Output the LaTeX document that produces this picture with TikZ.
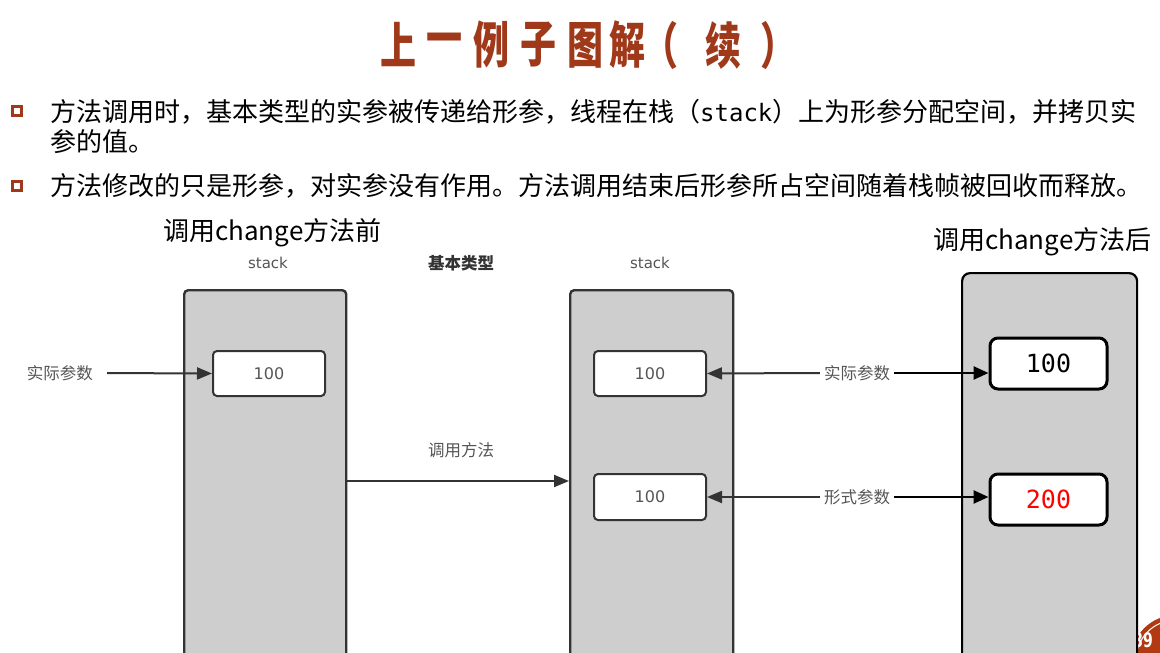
\documentclass[tikz,border=0pt]{standalone}
\usepackage{fontspec}
\usetikzlibrary{arrows.meta,calc}
\newfontfamily\cjk{Noto Sans CJK SC}
\newfontfamily\djs{DejaVu Sans}
\newfontfamily\djm{DejaVu Sans Mono}
\definecolor{rust}{HTML}{A0381A}
\definecolor{badge}{HTML}{B23A12}
\definecolor{frame}{HTML}{333333}
\definecolor{labelgray}{HTML}{555555}
\definecolor{stackfill}{HTML}{CECECE}

\tikzset{
  titlechar/.style={inner sep=0pt, text=rust, font=\cjk\bfseries\fontsize{50}{56}\selectfont},
  bullettext/.style={anchor=base west, inner sep=0pt, font=\cjk\fontsize{26}{30}\selectfont},
  heading/.style={anchor=base west, inner sep=0pt, font=\cjk\fontsize{26}{30}\selectfont},
  bulletbox/.style={draw=rust, line width=2.6pt, minimum size=9pt, inner sep=0pt},
  stackbox/.style={draw=frame, fill=stackfill, line width=2.4pt, rounded corners=4pt,
    anchor=north west, inner sep=0pt},
  valbox/.style={draw=frame, fill=white, line width=2pt, rounded corners=4pt,
    inner sep=0pt, text=labelgray, font=\djs\fontsize{16}{19}\selectfont},
  newstack/.style={draw=black, fill=stackfill, line width=2.2pt, rounded corners=8pt,
    anchor=north west, inner sep=0pt},
  newval/.style={draw=black, fill=white, line width=3pt, rounded corners=8pt,
    inner sep=0pt, font=\djm\fontsize{25}{30}\selectfont},
  lbl/.style={inner sep=4pt, text=labelgray, font=\cjk\fontsize{16.5}{19}\selectfont},
  stacklbl/.style={inner sep=0pt, text=labelgray, font=\djs\fontsize{15}{18}\selectfont},
  garrow/.style={draw=frame, line width=2pt, -{Triangle[length=15pt,width=12pt]}},
  barrow/.style={draw=black, line width=2.6pt, -{Triangle[length=15pt,width=13pt]}},
}

\begin{document}
\begin{tikzpicture}[x=1pt,y=-1pt]
\useasboundingbox (0,0) rectangle (1160,653);
\clip (0,0) rectangle (1160,653);
\fill[white] (0,0) rectangle (1160,653);

% title, one character at a time, narrow letterforms
\foreach \cx/\ch [count=\i] in {398/上,444/一,491/例,538/子,585/图,627/解,660/（,723/续,778/）}
  \node[titlechar] (t\i) at (\cx,45) {\scalebox{0.72}[1]{\ch}};

% bullets
\node[bulletbox] (sq1) at (17,111) {};
\node[bulletbox] (sq2) at (17,186) {};
\node[bullettext] (b1) at (50,121) {方法调用时，基本类型的实参被传递给形参，线程在栈（{\djm\fontsize{24}{28}\selectfont stack}）上为形参分配空间，并拷贝实};
\node[bullettext] (b2) at (50,151) {参的值。};
\node[bullettext] (b3) at (50,195) {方法修改的只是形参，对实参没有作用。方法调用结束后形参所占空间随着栈帧被回收而释放。};

% headings
\node[heading] (before) at (163,240) {调用change方法前};
\node[heading] (after) at (933,249) {调用change方法后};

% page badge
\fill[badge] (1176,660) circle (45);
\draw[white, line width=1pt] (1176,660) circle (40);
\node[inner sep=0pt, text=white, font=\djs\bfseries\fontsize{20}{24}\selectfont] (page) at (1143,640) {\scalebox{0.7}[1]{39}};

% column labels
\node[stacklbl] (s1) at (268,263) {stack};
\node[inner sep=0pt, text=frame, font=\cjk\bfseries\fontsize{16.5}{19}\selectfont] (kind) at (461,263) {基本类型};
\node[stacklbl] (s2) at (650,263) {stack};

% stack before the call
\node[stackbox, minimum width=162pt, minimum height=420pt] (lstack) at (183,289) {};
\node[valbox, minimum width=112pt, minimum height=45pt] (lval) at (269,373.5) {100};
\node[lbl] (lact) at (60,373) {实际参数};
\draw[garrow, shorten <=10pt] (lact.east) -- (lval.west);

% stack during the call
\node[stackbox, minimum width=163pt, minimum height=420pt] (mstack) at (569,289) {};
\node[valbox, minimum width=112pt, minimum height=45pt] (mval1) at (650,373.5) {100};
\node[valbox, minimum width=112pt, minimum height=46pt] (mval2) at (650,497) {100};

% the call itself
\node[lbl] (call) at (461,450) {调用方法};
\coordinate (callrow) at (461,481);
\draw[garrow] (lstack.east |- callrow) -- (mstack.west |- callrow);

% stack after the change
\node[newstack, minimum width=175pt, minimum height=420pt] (rstack) at (961,272) {};
\node[newval, minimum width=117pt, minimum height=51pt] (rval1) at (1048.5,363.5) {100};
\node[newval, minimum width=117pt, minimum height=51pt, text=red] (rval2) at (1048.5,499.5) {200};

% parameter pointers
\node[lbl, fill=white] (mact) at (857,373) {实际参数};
\node[lbl, fill=white] (mform) at (857,497) {形式参数};
\draw[garrow] (mact.west) -- (mval1.east);
\draw[garrow] (mform.west) -- (mval2.east);
\draw[barrow] (mact.east) -- (mact.east -| rval1.west);
\draw[barrow] (mform.east) -- (mform.east -| rval2.west);
\end{tikzpicture}
\end{document}
